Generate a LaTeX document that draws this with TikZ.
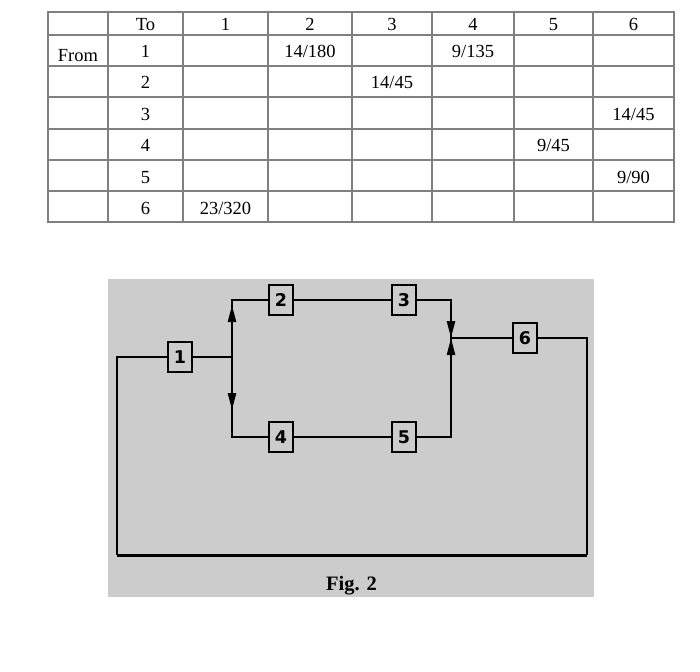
\documentclass[tikz,border=0pt]{standalone}
\usepackage{fontspec}
\setmainfont{Liberation Serif}
\newfontfamily\boxfont{DejaVu Sans}
\usetikzlibrary{arrows.meta}
\definecolor{panelgray}{HTML}{CCCCCC}
\definecolor{gridgray}{HTML}{808080}
\begin{document}
\begin{tikzpicture}[x=1pt,y=-1pt,
  cell/.style={anchor=base,font=\fontsize{18.5}{20}\selectfont,inner sep=0pt},
  grid/.style={gridgray,line width=1.2pt},
  blk/.style={draw=black,line width=2.4pt,fill=panelgray,minimum width=24pt,minimum height=30pt,inner sep=0pt,font=\boxfont\bfseries\fontsize{17.5}{17.5}\selectfont},
  wire/.style={line width=2.4pt,black,line join=miter},
  flow/.style={wire,-{Triangle[length=17pt,width=8pt]}},
  caption/.style={anchor=base,font=\bfseries\fontsize{20.5}{22}\selectfont,inner sep=0pt}
]
\useasboundingbox (0,0) rectangle (700,671);
% ---------- table ----------
\draw[grid] (48,12) rectangle (674,222);
\foreach \yy in {35,66,97,129,160,191} \draw[grid] (48,\yy) -- (674,\yy);
\foreach \xx in {108,183,268,352,432,514,593} \draw[grid] (\xx,12) -- (\xx,222);
% header row
\node[cell] (hto) at (145.5,31) {To};
\foreach \c/\xx in {1/225.5,2/310,3/392,4/473,5/553.5,6/633.5}
  \node[cell] (h\c) at (\xx,31) {\c};
% row labels
\node[cell] (from) at (78,62) {From};
\foreach \r/\yy in {1/58,2/89,3/121,4/152,5/183,6/214}
  \node[cell] (r\r) at (145.5,\yy) {\r};
% entries
\node[cell] (e12) at (310,58) {14/180};
\node[cell] (e14) at (473,58) {9/135};
\node[cell] (e23) at (392,89) {14/45};
\node[cell] (e36) at (633.5,121) {14/45};
\node[cell] (e45) at (553.5,152) {9/45};
\node[cell] (e56) at (633.5,183) {9/90};
\node[cell] (e61) at (225.5,214) {23/320};
% ---------- figure ----------
\fill[panelgray] (108,279) rectangle (594,597);
\node[blk] (b1) at (180,357) {1};
\node[blk] (b2) at (281,300) {2};
\node[blk] (b3) at (404,300) {3};
\node[blk] (b4) at (281,437) {4};
\node[blk] (b5) at (404,437) {5};
\node[blk] (b6) at (525,338) {6};
\coordinate (j1) at (232,357);
\coordinate (c2) at (232,300);
\coordinate (c4) at (232,437);
\coordinate (a2) at (232,305);
\coordinate (a4) at (232,410);
\coordinate (c3) at (451,300);
\coordinate (c5) at (451,437);
\coordinate (j2) at (451,338);
\coordinate (c6) at (587,338);
\coordinate (c6b) at (587,555);
\coordinate (c1b) at (117,555);
\coordinate (c1) at (117,357);
\draw[wire] (b1) -- (j1);
\draw[wire] (j1) -- (c2) -- (b2);
\draw[wire] (b2) -- (b3);
\draw[wire] (b3) -- (c3) -- (j2);
\draw[wire] (j1) -- (c4) -- (b4);
\draw[wire] (b4) -- (b5);
\draw[wire] (b5) -- (c5) -- (j2);
\draw[wire] (j2) -- (b6);
\draw[wire] (b6) -- (c6) -- (c6b);
\draw[wire,line width=3pt] (c6b) -- (c1b);
\draw[wire] (c1b) -- (c1) -- (b1);
\draw[flow] (j1) -- (a2);
\draw[flow] (j1) -- (a4);
\draw[flow] (c3) -- (j2);
\draw[flow] (c5) -- (j2);
\node[caption] (fig) at (351.5,590) {Fig. 2};
\end{tikzpicture}
\end{document}
